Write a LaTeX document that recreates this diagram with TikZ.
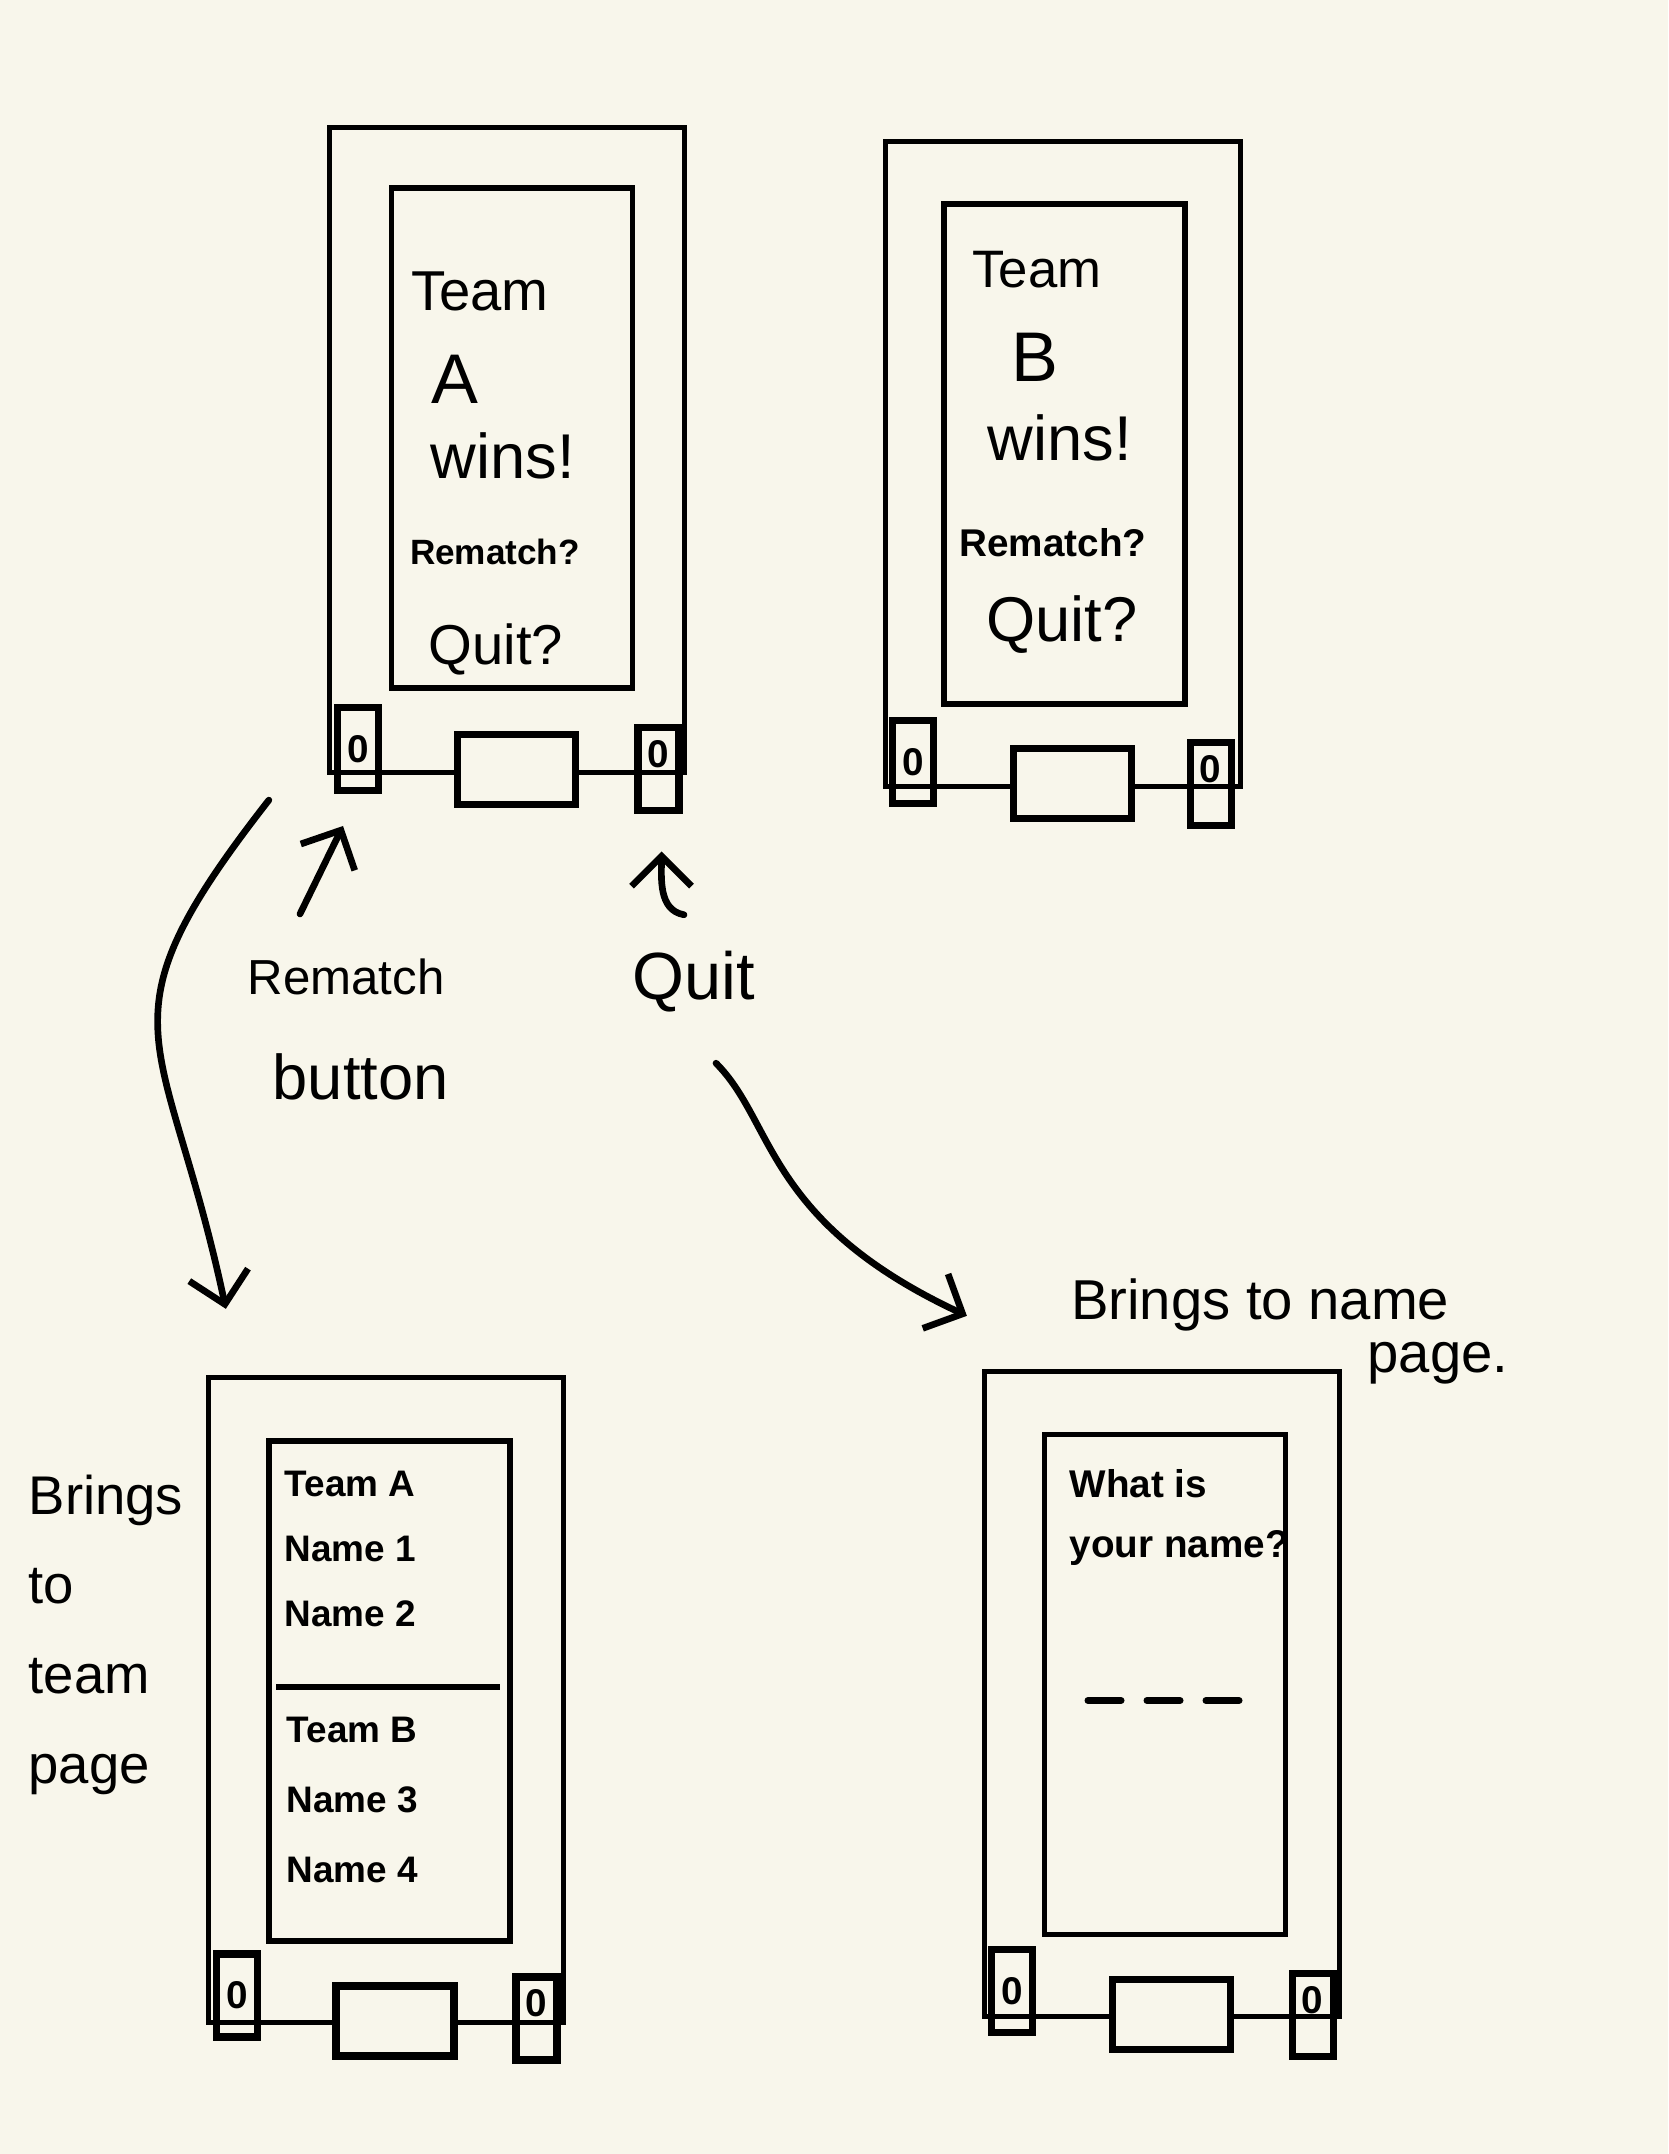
\documentclass[tikz,border=0pt]{standalone}
\usepackage{fontspec}
\setmainfont{Liberation Sans}
\usetikzlibrary{arrows.meta}
\definecolor{paper}{HTML}{F8F6EB}

\begin{document}
\begin{tikzpicture}[
    frame/.style={draw, line width=1.5pt, inner sep=0pt,
                  minimum width=35.5mm, minimum height=64.5mm},
    screen/.style={draw, line width=1.5pt, inner sep=0pt,
                   minimum width=24.1mm, minimum height=50mm},
    knob/.style={draw, line width=2pt, inner sep=0pt, minimum width=4.1mm,
                 minimum height=8.3mm, font=\fontsize{11}{11}\selectfont\bfseries},
    knobr/.style={knob, text depth=3mm},
    slot/.style={draw, fill=paper, line width=2pt, inner sep=0pt,
                 minimum width=11.8mm, minimum height=7mm},
    word/.style={inner sep=0pt, font=\fontsize{16}{19}\selectfont},
    letter/.style={inner sep=0pt, font=\fontsize{20}{24}\selectfont},
    wide/.style={inner sep=0pt, font=\fontsize{18}{22}\selectfont},
    note/.style={inner sep=0pt, font=\fontsize{10}{12}\selectfont\bfseries},
    lbl/.style={inner sep=0pt, align=left, anchor=north west},
    arr/.style={-{Straight Barb[length=3mm,width=6mm]}, line width=1.9pt, line cap=round}
]
\fill[paper] (0,0) rectangle (16.68,21.54);
\useasboundingbox (0,0) rectangle (16.68,21.54);

% team A wins
\node[frame] (m1) at (5.07,17.04) {};
\node[screen] (s1) at (5.12,17.16) {};
\node[slot] (sl1) at (5.165,13.845) {};
\node[knob] (k1l) at (3.58,14.05) {0};
\node[knobr] (k1r) at (6.585,13.845) {0};
\node[word] (t1a) at (4.80,18.63) {Team};
\node[letter] (t1b) at (4.55,17.75) {A};
\node[wide] (t1c) at (5.03,16.98) {wins!};
\node[note] (t1d) at (4.95,16.02) {Rematch?};
\node[word] (t1e) at (4.96,15.05) {Quit?};

% team B wins
\node[frame] (m2) at (10.63,16.90) {};
\node[screen] (s2) at (10.645,17.00) {};
\node[slot] (sl2) at (10.725,13.70) {};
\node[knob] (k2l) at (9.13,13.915) {0};
\node[knobr] (k2r) at (12.105,13.695) {0};
\node[word, font=\fontsize{15}{18}\selectfont] (t2a) at (10.37,18.84) {Team};
\node[letter] (t2b) at (10.35,17.97) {B};
\node[wide] (t2c) at (10.60,17.16) {wins!};
\node[note, font=\fontsize{11}{13}\selectfont\bfseries] (t2d) at (10.53,16.11) {Rematch?};
\node[wide] (t2e) at (10.62,15.29) {Quit?};

% team page
\node[frame] (m3) at (3.86,4.54) {};
\node[screen] (s3) at (3.895,4.63) {};
\node[slot] (sl3) at (3.95,1.33) {};
\node[knob] (k3l) at (2.37,1.585) {0};
\node[knobr] (k3r) at (5.365,1.355) {0};
\node[lbl, font=\fontsize{10.5}{18.5}\selectfont\bfseries] (t3a) at (2.84,6.84) {Team A\\Name 1\\Name 2};
\node[lbl, font=\fontsize{10.5}{20}\selectfont\bfseries] (t3b) at (2.86,4.38) {Team B\\Name 3\\Name 4};
\draw[line width=1.5pt] ([xshift=1mm,yshift=0.4mm]s3.west) -- ([xshift=-1.3mm,yshift=0.4mm]s3.east);

% name page
\node[frame] (m4) at (11.62,4.60) {};
\node[screen] (s4) at (11.65,4.695) {};
\node[slot] (sl4) at (11.715,1.395) {};
\node[knob] (k4l) at (10.12,1.63) {0};
\node[knobr] (k4r) at (13.125,1.39) {0};
\node[lbl, font=\fontsize{11}{17}\selectfont\bfseries] (t4) at (10.69,6.85) {What is\\your name?};
\draw[line width=2pt, line cap=round, dash pattern=on 3.3mm off 2.6mm]
    ([xshift=-7.7mm,yshift=-1.6mm]s4.center) -- ([xshift=7.6mm,yshift=-1.6mm]s4.center);

% labels
\node[lbl, font=\fontsize{14}{30}\selectfont] (rmlbl) at (2.47,11.96)
    {Rematch\\\hspace*{2.5mm}{\fontsize{18}{30}\selectfont button}};
\node[inner sep=0pt, font=\fontsize{19}{22}\selectfont] (qlbl) at (6.94,11.72) {Quit};
\node[inner sep=0pt, align=right, anchor=north east, font=\fontsize{16}{15}\selectfont]
    (nmlbl) at (15.09,8.76) {Brings to name\hspace*{5.9mm}\\page.};
\node[lbl, font=\fontsize{15.5}{25.5}\selectfont] (tmlbl) at (0.28,6.80) {Brings\\to\\team\\page};

% arrows
\draw[arr] ([xshift=5.3mm,yshift=4.4mm]rmlbl.north west) -- ([xshift=-1.5mm,yshift=-3.2mm]k1l.south);
\draw[arr] ([xshift=-1mm,yshift=3.6mm]qlbl.north) to[out=170,in=-90] ([xshift=0.3mm,yshift=-3.7mm]k1r.south);
\draw[arr] ([xshift=-5.8mm,yshift=-2.5mm]m1.south west) to[out=232,in=102,looseness=1.45]
    ([xshift=2mm,yshift=6.6mm]m3.north west);
\draw[arr] ([xshift=2.2mm,yshift=-5mm]qlbl.south) to[out=-45,in=155,out looseness=0.6,in looseness=1.6]
    ([xshift=-1.5mm,yshift=5.3mm]m4.north west);

\end{tikzpicture}
\end{document}
